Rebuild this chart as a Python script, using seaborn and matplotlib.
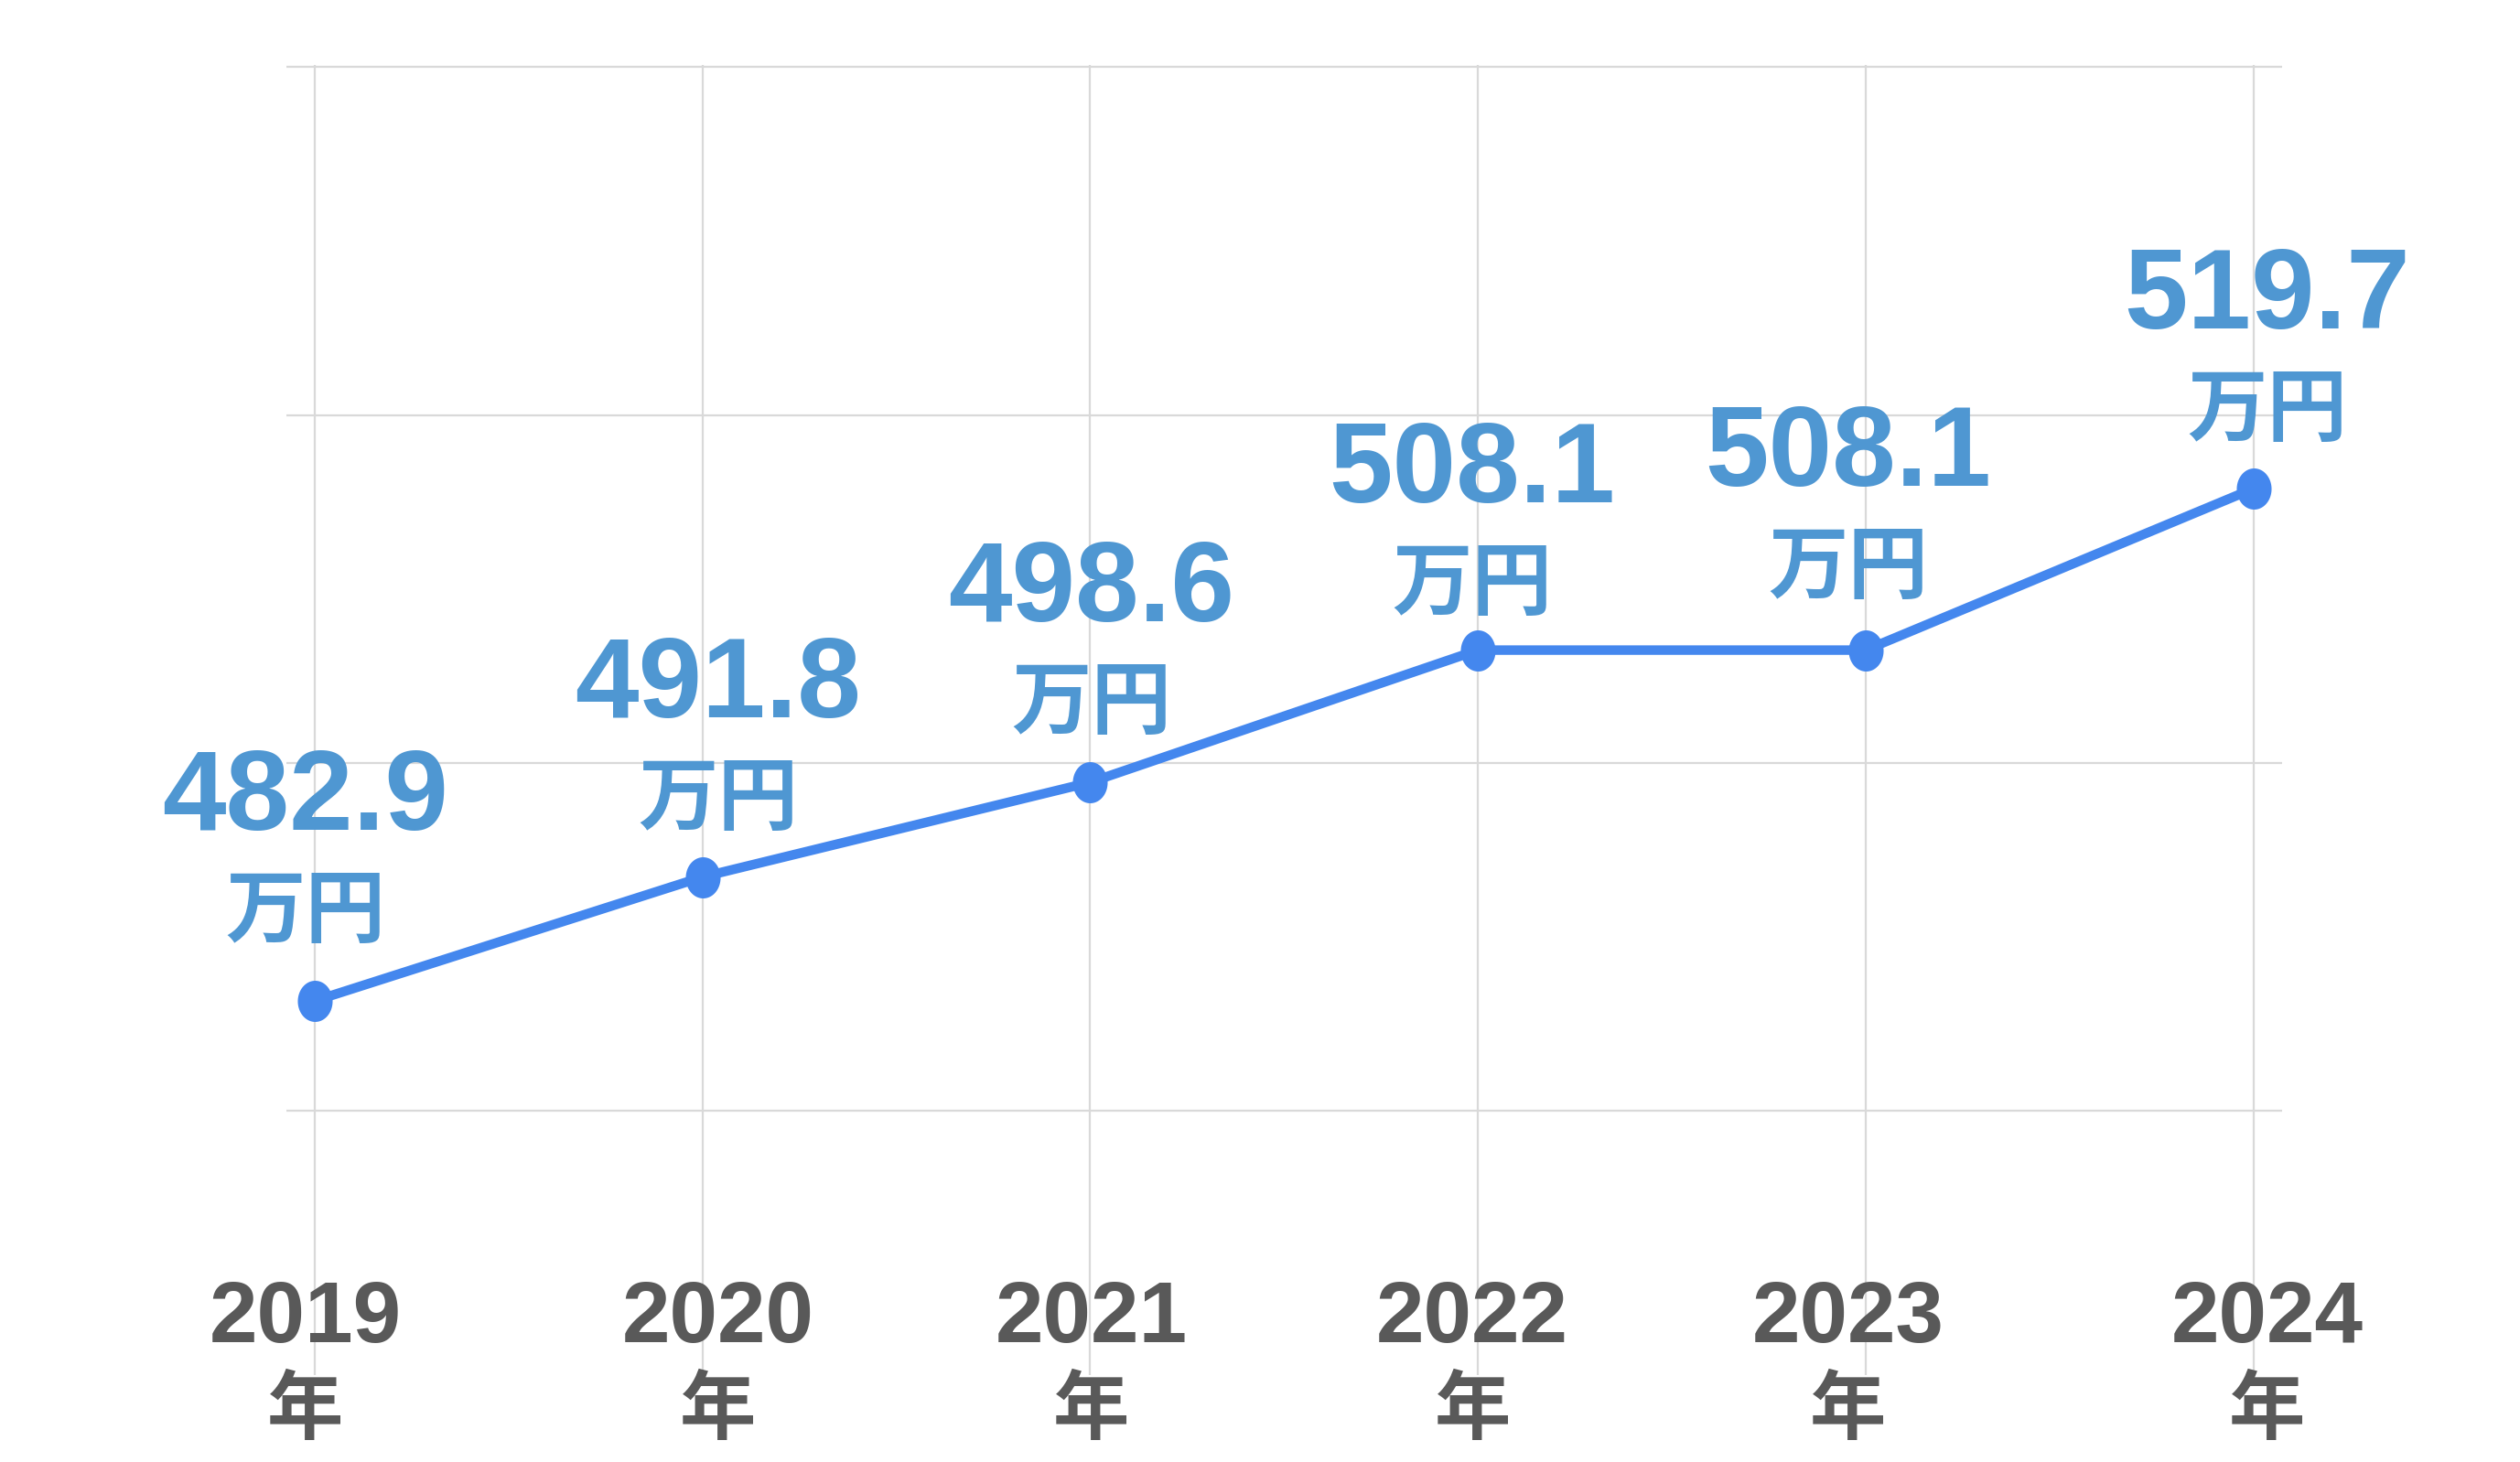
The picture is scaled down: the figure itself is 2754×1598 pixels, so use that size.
import numpy as np
import pandas as pd
import matplotlib
matplotlib.use('Agg')
import matplotlib.pyplot as plt
import matplotlib.transforms as mtransforms
from matplotlib.path import Path
import seaborn as sns

years = ['2019', '2020', '2021', '2022', '2023', '2024']
values = [482.9, 491.8, 498.6, 508.1, 508.1, 519.7]
y_ticks = [475, 500, 525, 550]
unit_label = '万円'
year_suffix = '年'

# small per-label nudges (pixels) seen in the original layout
label_dx = [-10, 17, 1, -6, -19, 15]
label_dy = [10, -2, -1, -15, 3, -2]

LINE_COLOR = '#4487EE'
LABEL_COLOR = '#4f97d2'
TEXT_GRAY = '#595959'
GRID_COLOR = '#d9d9d9'

sns.set_style('white')
plt.rcParams['font.family'] = ['Liberation Sans', 'Noto Sans CJK JP', 'DejaVu Sans']

df = pd.DataFrame({'pos': range(len(years)), 'value': values})

fig = plt.figure(figsize=(27.54, 15.98), dpi=100)
ax = fig.add_axes([0.1137, 0.0594, 0.7920, 0.8962])

# slightly tall dots, like the original
t = np.linspace(0, 2 * np.pi, 121)
dot = Path(np.column_stack([0.845 * np.cos(t), np.sin(t)]), closed=True)

sns.lineplot(data=df, x='pos', y='value', ax=ax, color=LINE_COLOR,
             linewidth=7.5, marker=dot, markersize=32.4,
             markeredgewidth=0, markerfacecolor=LINE_COLOR)

ax.set_xlim(-0.073, 5.075)
ax.set_ylim(456, 550.15)
ax.set_xticks(range(len(years)))
ax.set_yticks(y_ticks)
ax.tick_params(length=0, labelbottom=False, labelleft=False)
ax.grid(True, color=GRID_COLOR, linewidth=1.6)
ax.set_axisbelow(True)
for s in ax.spines.values():
    s.set_visible(False)
ax.set_xlabel('')
ax.set_ylabel('')

for i, v in enumerate(values):
    dx, dy = label_dx[i], label_dy[i]
    ax.annotate(f'{v:.1f}', xy=(i, v), xytext=(dx, 177 + dy), textcoords='offset pixels',
                ha='center', va='baseline', fontsize=90, fontweight='bold',
                color=LABEL_COLOR, family=['Liberation Sans'])
    ax.annotate(unit_label, xy=(i, v), xytext=(dx, 61 + dy), textcoords='offset pixels',
                ha='center', va='baseline', fontsize=63, fontweight='bold',
                color=LABEL_COLOR, family=['Noto Sans CJK JP'])

trans = mtransforms.blended_transform_factory(ax.transData, fig.transFigure)
for i, yr in enumerate(years):
    ax.annotate(yr, xy=(i, 0.0820), xycoords=trans, xytext=(label_dx[i], 0),
                textcoords='offset pixels', ha='center', va='baseline',
                fontsize=68, fontweight='bold', color=TEXT_GRAY, family=['Liberation Sans'])
    ax.annotate(year_suffix, xy=(i, 0.0194), xycoords=trans, xytext=(label_dx[i], 0),
                textcoords='offset pixels', ha='center', va='baseline',
                fontsize=60, fontweight='bold', color=TEXT_GRAY, family=['Noto Sans CJK JP'])

fig.savefig('out.png', dpi=100)
